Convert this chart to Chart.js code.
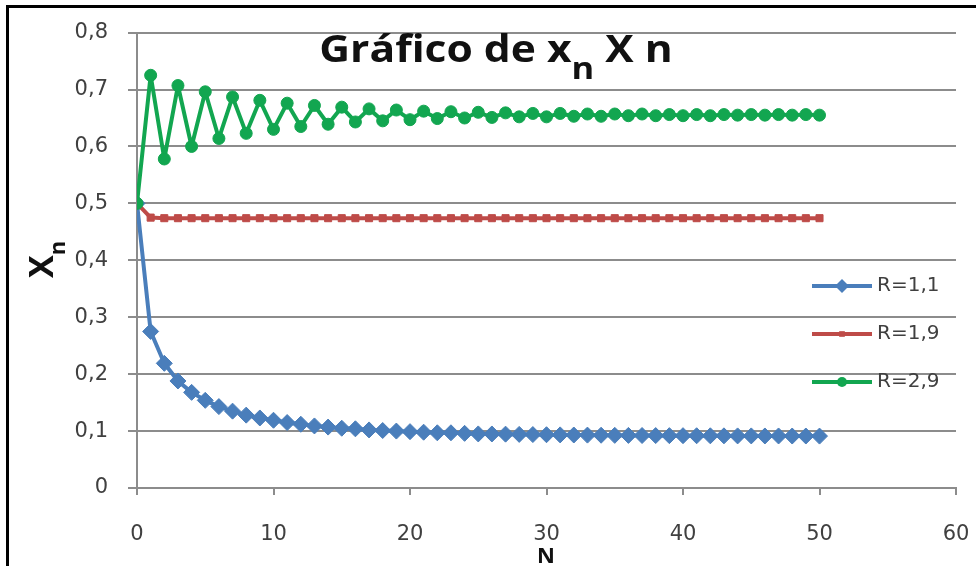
<!DOCTYPE html>
<html>
<head>
<meta charset="utf-8">
<script src="https://cdn.jsdelivr.net/npm/chart.js@4.4.1/dist/chart.umd.min.js"></script>
<style>
  body { margin: 0; background: #fff; }
  canvas { display: block; }
</style>
</head>
<body>
<canvas id="chart" width="976" height="566"></canvas>
<script>
// values (n = 0..50)
var seriesNames = ['R=1,1', 'R=1,9', 'R=2,9'];
var seriesColors = ['#4a7ebb', '#be4b48', '#12a650'];
var seriesMarkers = ['rectRot', 'rect', 'circle'];
var markerSizes = [8, 5, 6];

var r11 = [0.5, 0.275, 0.219, 0.188, 0.168, 0.154, 0.143, 0.135, 0.128, 0.123,
    0.119, 0.115, 0.112, 0.109, 0.107, 0.105, 0.104, 0.102, 0.101, 0.100,
    0.099, 0.098, 0.097, 0.097, 0.096, 0.095, 0.0949, 0.0946, 0.0942, 0.0939,
    0.0936, 0.0933, 0.0931, 0.0929, 0.0927, 0.0925, 0.0924, 0.0922, 0.0921, 0.0920,
    0.0919, 0.0918, 0.0917, 0.0916, 0.0915, 0.0915, 0.0914, 0.0914, 0.0913, 0.0913,
    0.0912];
var r19 = [0.5, 0.475, 0.474, 0.474, 0.474, 0.474, 0.474, 0.474, 0.474, 0.474,
    0.474, 0.474, 0.474, 0.474, 0.474, 0.474, 0.474, 0.474, 0.474, 0.474,
    0.474, 0.474, 0.474, 0.474, 0.474, 0.474, 0.474, 0.474, 0.474, 0.474,
    0.474, 0.474, 0.474, 0.474, 0.474, 0.474, 0.474, 0.474, 0.474, 0.474,
    0.474, 0.474, 0.474, 0.474, 0.474, 0.474, 0.474, 0.474, 0.474, 0.474,
    0.474];
var r29 = [0.5, 0.725, 0.578, 0.707, 0.600, 0.696, 0.614, 0.687, 0.623, 0.681,
    0.630, 0.676, 0.635, 0.672, 0.639, 0.669, 0.643, 0.666, 0.645, 0.664,
    0.647, 0.662, 0.649, 0.661, 0.650, 0.660, 0.651, 0.659, 0.652, 0.658,
    0.652, 0.658, 0.653, 0.657, 0.653, 0.657, 0.654, 0.657, 0.654, 0.656,
    0.654, 0.656, 0.654, 0.656, 0.655, 0.656, 0.655, 0.656, 0.655, 0.656,
    0.655];

var FONT = '"Open Sans"';
var TICKFONT = '"DejaVu Sans"';
var TXT = '#404040';
var GRID = '#8c8c8c';

function toPoints(arr) {
    return arr.map(function (v, i) { return { x: i, y: v }; });
}

// frame, legend, title and axis titles
var decor = {
    id: 'decor',
    beforeDraw: function (chart) {
        var ctx = chart.ctx;
        ctx.save();
        ctx.fillStyle = '#fff';
        ctx.fillRect(0, 0, chart.width, chart.height);
        ctx.fillStyle = '#000';
        ctx.fillRect(6, 5, chart.width - 6, 3);
        ctx.fillRect(6, 5, 3, chart.height - 5);
        ctx.restore();
    },
    afterDraw: function (chart) {
        var ctx = chart.ctx;
        ctx.save();

        // legend inside the plot
        var ys = [286, 334, 382];
        for (var i = 0; i < seriesNames.length; i++) {
            ctx.strokeStyle = seriesColors[i];
            ctx.fillStyle = seriesColors[i];
            ctx.lineWidth = 4;
            ctx.beginPath();
            ctx.moveTo(812, ys[i]);
            ctx.lineTo(872, ys[i]);
            ctx.stroke();
            ctx.lineWidth = 1;
            Chart.helpers.drawPoint(ctx, { pointStyle: seriesMarkers[i], radius: markerSizes[i] - 1, rotation: 0 }, 842, ys[i]);
            ctx.fillStyle = TXT;
            ctx.font = '20px ' + TICKFONT;
            ctx.textAlign = 'left';
            ctx.textBaseline = 'middle';
            ctx.fillText(seriesNames[i], 877, ys[i]);
        }

        // title "Gráfico de xn X n", slightly stretched like the source
        ctx.fillStyle = '#111';
        ctx.textBaseline = 'alphabetic';
        ctx.textAlign = 'left';
        var big = 'bold 37px ' + FONT, small = 'bold 30px ' + FONT;
        ctx.font = big;
        var w1 = ctx.measureText('Gráfico de x').width;
        var w3 = ctx.measureText(' X n').width;
        ctx.font = small;
        var w2 = ctx.measureText('n').width;
        var x0 = -(w1 + w2 + w3) / 2;
        ctx.save();
        ctx.translate(496, 62);
        ctx.scale(1.15, 1);
        ctx.font = big;
        ctx.fillText('Gráfico de x', x0, 0);
        ctx.fillText(' X n', x0 + w1 + w2, 0);
        ctx.font = small;
        ctx.fillText('n', x0 + w1, 17);
        ctx.restore();

        // y title "Xn" rotated
        ctx.save();
        ctx.translate(53, 278);
        ctx.rotate(-Math.PI / 2);
        ctx.font = 'bold 34px ' + FONT;
        var wx = ctx.measureText('X').width;
        ctx.fillText('X', 0, 0);
        ctx.font = 'bold 22px ' + FONT;
        ctx.fillText('n', wx, 12);
        ctx.restore();

        // x title
        ctx.font = 'bold 22px ' + FONT;
        ctx.textAlign = 'center';
        ctx.fillText('N', 546, 563);

        ctx.restore();
    }
};

function makeChart() {
    var datasets = [r11, r19, r29].map(function (arr, i) {
        return {
            label: seriesNames[i],
            data: toPoints(arr),
            borderColor: seriesColors[i],
            backgroundColor: seriesColors[i],
            borderWidth: 4,
            borderJoinStyle: 'round',
            pointStyle: seriesMarkers[i],
            pointRadius: markerSizes[i],
            pointBorderWidth: 1,
            tension: 0,
            order: 2 - i
        };
    });

    new Chart(document.getElementById('chart'), {
        type: 'line',
        data: { datasets: datasets },
        options: {
            responsive: false,
            animation: false,
            devicePixelRatio: 1,
            layout: { padding: { left: 0, right: 0, top: 26, bottom: 0 } },
            plugins: {
                legend: { display: false },
                tooltip: { enabled: false },
                title: { display: false }
            },
            scales: {
                x: {
                    type: 'linear',
                    min: 0,
                    max: 60,
                    ticks: {
                        stepSize: 10,
                        maxRotation: 0,
                        padding: 27,
                        color: TXT,
                        font: { family: TICKFONT, size: 21 }
                    },
                    grid: { drawOnChartArea: false, drawTicks: true, tickLength: 7, color: GRID, lineWidth: 2 },
                    border: { color: GRID, width: 2 },
                    afterFit: function (s) {
                        s.height = 78;
                        s.paddingLeft = 0;
                        s.paddingRight = 20;
                    }
                },
                y: {
                    min: 0,
                    max: 0.8,
                    ticks: {
                        stepSize: 0.1,
                        padding: 20,
                        color: TXT,
                        font: { family: TICKFONT, size: 21 },
                        callback: function (v) {
                            return v === 0 ? '0' : v.toFixed(1).replace('.', ',');
                        }
                    },
                    grid: { color: GRID, lineWidth: 2, tickLength: 9 },
                    border: { color: GRID, width: 2 },
                    afterFit: function (s) { s.width = 137; }
                }
            }
        },
        plugins: [decor]
    });
}

if (document.fonts && document.fonts.load) {
    Promise.all([
        document.fonts.load('21px "DejaVu Sans"'),
        document.fonts.load('bold 36px "Open Sans"')
    ]).then(makeChart, makeChart);
} else {
    makeChart();
}
</script>
</body>
</html>
